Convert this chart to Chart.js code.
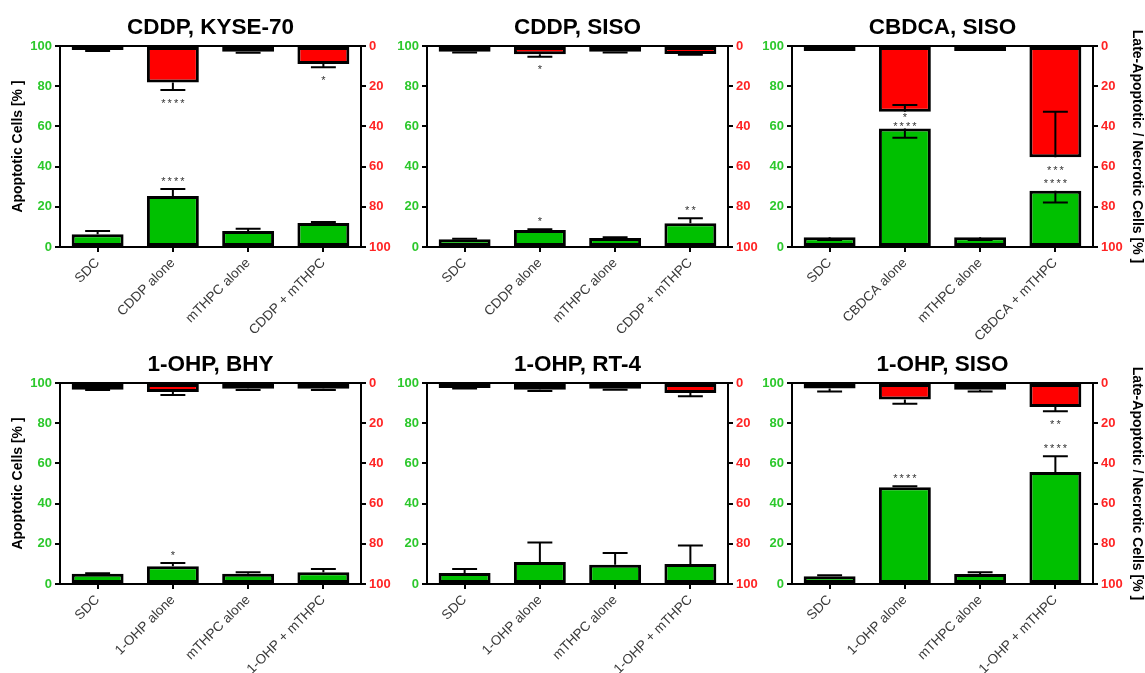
<!DOCTYPE html>
<html>
<head>
<meta charset="utf-8">
<script src="https://cdn.jsdelivr.net/npm/chart.js@4.4.1/dist/chart.umd.min.js"></script>
<style>
  html, body { margin: 0; padding: 0; background: #fff; }
  #wrap { position: relative; width: 1145px; height: 673px; overflow: hidden; background: #fff; }
  #wrap canvas { position: absolute; pointer-events: none; }
</style>
</head>
<body>
<div id="wrap"></div>
<script>
// ---- category labels ----
const cddpLabels  = ['SDC', 'CDDP alone', 'mTHPC alone', 'CDDP + mTHPC'];
const cbdcaLabels = ['SDC', 'CBDCA alone', 'mTHPC alone', 'CBDCA + mTHPC'];
const ohpLabels   = ['SDC', '1-OHP alone', 'mTHPC alone', '1-OHP + mTHPC'];

// ---- axis ticks ----
const percentTicks = [0, 20, 40, 60, 80, 100];

// ---- CDDP, KYSE-70 ----
const kyseApoptotic     = [6.3, 25.4, 8.0, 12.0];
const kyseApoptoticSd   = [1.6, 3.5, 1.1, 0.4];
const kyseNecrotic      = [2.0, 18.2, 2.8, 9.0];
const kyseNecroticSd    = [0.5, 3.7, 0.5, 1.6];
const kyseApoptoticSig  = ['', '****', '', ''];
const kyseNecroticSig   = ['', '****', '', '*'];

// ---- CDDP, SISO ----
const cddpSisoApoptotic    = [3.8, 8.5, 4.5, 11.8];
const cddpSisoApoptoticSd  = [0.3, 0.3, 0.3, 2.5];
const cddpSisoNecrotic     = [2.8, 4.1, 2.8, 4.0];
const cddpSisoNecroticSd   = [0.4, 1.2, 0.4, 0.3];
const cddpSisoApoptoticSig = ['', '*', '', '**'];
const cddpSisoNecroticSig  = ['', '*', '', ''];

// ---- CBDCA, SISO (negative SD: whisker drawn toward the baseline) ----
const cbdcaSisoApoptotic    = [4.8, 58.9, 4.8, 28.0];
const cbdcaSisoApoptoticSd  = [-1.3, -4.5, -1.3, -5.8];
const cbdcaSisoNecrotic     = [2.5, 32.7, 2.5, 55.4];
const cbdcaSisoNecroticSd   = [-1.0, -3.3, -1.0, -22.7];
const cbdcaSisoApoptoticSig = ['', '****', '', '****'];
const cbdcaSisoNecroticSig  = ['', '*', '', '***'];

// ---- 1-OHP, BHY ----
const bhyApoptotic    = [5.1, 8.8, 5.1, 5.8];
const bhyApoptoticSd  = [0.3, 1.6, 0.7, 1.7];
const bhyNecrotic     = [3.3, 4.5, 2.8, 2.8];
const bhyNecroticSd   = [0.2, 1.5, 0.7, 0.7];
const bhyApoptoticSig = ['', '*', '', ''];
const bhyNecroticSig  = ['', '', '', ''];

// ---- 1-OHP, RT-4 ----
const rt4Apoptotic    = [5.5, 10.9, 9.6, 9.9];
const rt4ApoptoticSd  = [2.0, 9.8, 5.8, 9.2];
const rt4Necrotic     = [2.5, 3.3, 2.8, 5.0];
const rt4NecroticSd   = [0.2, 0.7, 0.5, 1.6];
const rt4ApoptoticSig = ['', '', '', ''];
const rt4NecroticSig  = ['', '', '', ''];

// ---- 1-OHP, SISO ----
const ohpSisoApoptotic    = [3.8, 48.1, 5.0, 55.7];
const ohpSisoApoptoticSd  = [0.5, 0.5, 0.8, 7.8];
const ohpSisoNecrotic     = [2.7, 8.2, 3.3, 11.9];
const ohpSisoNecroticSd   = [1.5, 2.1, 0.9, 2.2];
const ohpSisoApoptoticSig = ['', '****', '', '****'];
const ohpSisoNecroticSig  = ['', '', '', '**'];

// ---- panel list ----
const panels = [
  { title: 'CDDP, KYSE-70', labels: cddpLabels,  col: 0, row: 0,
    apo: kyseApoptotic, apoSd: kyseApoptoticSd, apoSig: kyseApoptoticSig,
    nec: kyseNecrotic, necSd: kyseNecroticSd, necSig: kyseNecroticSig },
  { title: 'CDDP, SISO', labels: cddpLabels,  col: 1, row: 0,
    apo: cddpSisoApoptotic, apoSd: cddpSisoApoptoticSd, apoSig: cddpSisoApoptoticSig,
    nec: cddpSisoNecrotic, necSd: cddpSisoNecroticSd, necSig: cddpSisoNecroticSig },
  { title: 'CBDCA, SISO', labels: cbdcaLabels, col: 2, row: 0,
    apo: cbdcaSisoApoptotic, apoSd: cbdcaSisoApoptoticSd, apoSig: cbdcaSisoApoptoticSig,
    nec: cbdcaSisoNecrotic, necSd: cbdcaSisoNecroticSd, necSig: cbdcaSisoNecroticSig },
  { title: '1-OHP, BHY', labels: ohpLabels, col: 0, row: 1,
    apo: bhyApoptotic, apoSd: bhyApoptoticSd, apoSig: bhyApoptoticSig,
    nec: bhyNecrotic, necSd: bhyNecroticSd, necSig: bhyNecroticSig },
  { title: '1-OHP, RT-4', labels: ohpLabels, col: 1, row: 1,
    apo: rt4Apoptotic, apoSd: rt4ApoptoticSd, apoSig: rt4ApoptoticSig,
    nec: rt4Necrotic, necSd: rt4NecroticSd, necSig: rt4NecroticSig },
  { title: '1-OHP, SISO', labels: ohpLabels, col: 2, row: 1,
    apo: ohpSisoApoptotic, apoSd: ohpSisoApoptoticSd, apoSig: ohpSisoApoptoticSig,
    nec: ohpSisoNecrotic, necSd: ohpSisoNecroticSd, necSig: ohpSisoNecroticSig }
];

// ---- look ----
const FONT = "'Liberation Sans', Arial, Helvetica, sans-serif";
const BAR_GREEN = '#00c000';
const BAR_RED = '#ff0000';
const TICK_GREEN = '#2cc82c';
const TICK_RED = '#ff2424';
const INK = '#000';

// ---- grid geometry (page pixels) ----
const plotLeft  = [60, 427, 792];
const plotRight = [361, 728, 1093];
const rowTop    = [0, 337];
const rowHeight = [352, 336];   // top-row canvases overlap the lower row so long labels are not cut
const plotTop   = 46;   // inside each canvas
const plotBottom = 247; // inside each canvas
const leftAxisW = 60, rightAxisW = 52;

// error bars, significance marks, panel titles and the top frame line
const panelDecor = {
  id: 'panelDecor',
  afterDatasetsDraw(chart) {
    const ctx = chart.ctx;
    const ends = chart.data.labels.map(() => ({}));
    chart.data.datasets.forEach((ds, di) => {
      const meta = chart.getDatasetMeta(di);
      const sc = chart.scales[ds.yAxisID];
      meta.data.forEach((bar, i) => {
        const v = ds.data[i], e = ds.sd[i];
        const yEnd = sc.getPixelForValue(v);
        const yW = sc.getPixelForValue(v + e);
        const half = bar.width * 0.24;
        ctx.save();
        ctx.strokeStyle = INK;
        ctx.lineWidth = 2;
        ctx.beginPath();
        ctx.moveTo(bar.x, yEnd); ctx.lineTo(bar.x, yW);
        ctx.moveTo(bar.x - half, yW); ctx.lineTo(bar.x + half, yW);
        ctx.stroke();
        ctx.restore();
        const outer = ds.yAxisID === 'y' ? Math.min(yEnd, yW) : Math.max(yEnd, yW);
        ends[i][ds.yAxisID] = { x: bar.x, outer, sig: ds.sig[i] };
      });
    });
    // significance asterisks
    ctx.save();
    ctx.font = '11px ' + FONT;
    ctx.fillStyle = '#333';
    ctx.textAlign = 'center';
    ctx.textBaseline = 'alphabetic';
    if ('letterSpacing' in ctx) ctx.letterSpacing = '2px';
    ends.forEach(e => {
      const g = e.y, r = e.y2;
      let gc = g.outer - 10.5, rc = r.outer + 10.5;
      if (g.sig && r.sig && gc - rc < 9) {
        const span = g.outer - r.outer;
        rc = r.outer + span * 0.2;
        gc = r.outer + span * 0.72;
      }
      if (g.sig) ctx.fillText(g.sig, g.x + 1, gc + 6.3);
      if (r.sig) ctx.fillText(r.sig, r.x + 1, rc + 6.3);
    });
    ctx.restore();
  },
  afterDraw(chart) {
    const ctx = chart.ctx;
    const area = chart.chartArea;
    ctx.save();
    ctx.strokeStyle = INK;
    ctx.lineWidth = 2;
    ctx.beginPath();
    ctx.moveTo(area.left, area.top);
    ctx.lineTo(area.right, area.top);
    ctx.stroke();
    ctx.font = 'bold 22.5px ' + FONT;
    ctx.fillStyle = INK;
    ctx.textAlign = 'center';
    ctx.textBaseline = 'alphabetic';
    ctx.fillText(chart.options.panelTitle, (area.left + area.right) / 2, 34);
    ctx.restore();
  }
};

const wrap = document.getElementById('wrap');

panels.forEach(p => {
  const left = plotLeft[p.col] - leftAxisW;
  const width = plotRight[p.col] + rightAxisW - left;
  const height = rowHeight[p.row];
  const canvas = document.createElement('canvas');
  canvas.width = width; canvas.height = height;
  canvas.style.left = left + 'px';
  canvas.style.top = rowTop[p.row] + 'px';
  canvas.style.width = width + 'px';
  canvas.style.height = height + 'px';
  wrap.appendChild(canvas);

  const showLeftTitle = p.col === 0;
  const showRightTitle = p.col === 2;
  const xAxisH = height - plotBottom;

  const yAxisCommon = {
    min: 0, max: 100,
    afterBuildTicks: s => { s.ticks = percentTicks.map(v => ({ value: v })); },
    grid: { display: true, drawOnChartArea: false, drawTicks: true, tickLength: 5, color: INK, lineWidth: 2 },
    border: { display: true, color: INK, width: 2 }
  };

  new Chart(canvas, {
    type: 'bar',
    data: {
      labels: p.labels,
      datasets: [
        { label: 'Apoptotic Cells', data: p.apo, sd: p.apoSd, sig: p.apoSig, yAxisID: 'y',
          backgroundColor: BAR_GREEN, borderColor: INK, borderWidth: 3, borderSkipped: false,
          grouped: false, barPercentage: 0.69, categoryPercentage: 1 },
        { label: 'Late-Apoptotic / Necrotic Cells', data: p.nec, sd: p.necSd, sig: p.necSig, yAxisID: 'y2',
          backgroundColor: BAR_RED, borderColor: INK, borderWidth: 3, borderSkipped: false,
          grouped: false, barPercentage: 0.69, categoryPercentage: 1 }
      ]
    },
    options: {
      panelTitle: p.title,
      responsive: false,
      animation: false,
      devicePixelRatio: 1,
      layout: { padding: { top: plotTop, left: 0, right: 0, bottom: 0 } },
      plugins: { legend: { display: false }, tooltip: { enabled: false }, title: { display: false } },
      scales: {
        x: {
          grid: { display: true, drawOnChartArea: false, drawTicks: true, tickLength: 5, color: INK, lineWidth: 2, offset: false },
          border: { display: true, color: INK, width: 2 },
          ticks: { autoSkip: false, maxRotation: 45, minRotation: 45, color: '#3a3a3a',
                   font: { family: FONT, size: 13.5 }, padding: 3 },
          afterFit: s => { s.height = xAxisH; }
        },
        y: Object.assign({}, yAxisCommon, {
          position: 'left',
          ticks: { color: TICK_GREEN, font: { family: FONT, size: 13, weight: 'bold' }, padding: 3 },
          title: { display: showLeftTitle, text: 'Apoptotic Cells [% ]', color: INK,
                   font: { family: FONT, size: 14, weight: 'bold' }, padding: { top: 10, bottom: 0 } },
          afterFit: s => { s.width = leftAxisW; }
        }),
        y2: Object.assign({}, yAxisCommon, {
          position: 'right',
          reverse: true,
          ticks: { color: TICK_RED, font: { family: FONT, size: 13, weight: 'bold' }, padding: 3 },
          title: { display: showRightTitle, text: 'Late-Apoptotic / Necrotic Cells [% ]', color: INK,
                   font: { family: FONT, size: 14, weight: 'bold' }, padding: { top: 0, bottom: 0 } },
          afterFit: s => { s.width = rightAxisW; }
        })
      }
    },
    plugins: [panelDecor]
  });
});
</script>
</body>
</html>
